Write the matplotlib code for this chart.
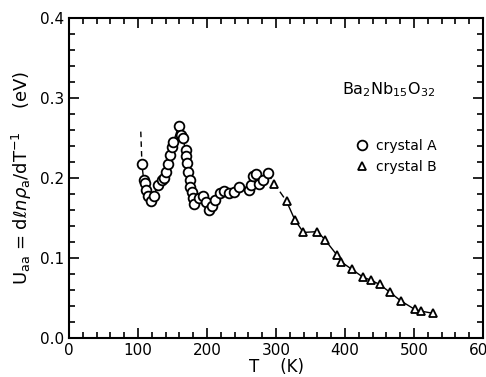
import matplotlib.pyplot as plt
import matplotlib.ticker as mticker
import numpy as np

# crystal A (circles)
T_a = [105.7, 108.1, 109.5, 111.0, 114.3, 119.2, 122.5, 128.8, 135.0, 137.4,
       140.9, 143.2, 146.7, 149.6, 151.4, 158.7, 162.6, 164.9, 168.8, 169.8,
       170.7, 172.1, 174.6, 176.0, 177.9, 179.4, 181.8, 189.0, 194.8, 198.7,
       203.5, 207.4, 212.0, 219.0, 225.0, 231.4, 239.6, 246.8, 260.3, 263.7,
       267.0, 270.9, 275.7, 280.5, 287.7]
U_a = [0.217, 0.198, 0.194, 0.185, 0.1775, 0.1716, 0.1775, 0.191, 0.1975, 0.200,
       0.208, 0.2175, 0.229, 0.239, 0.245, 0.265, 0.254, 0.250, 0.235, 0.227,
       0.219, 0.208, 0.1975, 0.189, 0.183, 0.175, 0.168, 0.175, 0.178, 0.170,
       0.160, 0.165, 0.1725, 0.181, 0.184, 0.181, 0.183, 0.189, 0.185, 0.191,
       0.2025, 0.205, 0.1925, 0.1975, 0.206]

# crystal B (triangles)
T_b = [297.4, 315.2, 327.3, 339.7, 360.0, 370.7, 388.0, 394.7, 409.7, 426.0,
       437.0, 450.0, 464.6, 480.5, 501.0, 509.4, 527.0]
U_b = [0.193, 0.171, 0.1475, 0.132, 0.133, 0.123, 0.104, 0.095, 0.086, 0.076,
       0.0725, 0.067, 0.0575, 0.0466, 0.0358, 0.0337, 0.031]

# dashed extension at the low-T end
T_ext = [104.0, 105.7]
U_ext = [0.258, 0.217]

fig = plt.figure(figsize=(4.86, 3.77), dpi=100)
ax = fig.add_axes([0.142, 0.1034, 0.852, 0.8488])

ax.plot(T_ext, U_ext, color='black', lw=1.0, ls=(0, (4, 3)))
ax.plot(T_a, U_a, color='black', lw=1.0)
ax.plot([T_a[-1]] + T_b[:2], [U_a[-1]] + U_b[:2], color='black', lw=1.0, ls=(0, (5, 3)))
ax.plot(T_b[1:], U_b[1:], color='black', lw=1.0)

ax.plot(T_a, U_a, 'o', ms=7, mfc='white', mec='black', mew=1.3, label='crystal A')
ax.plot(T_b, U_b, '^', ms=6, mfc='white', mec='black', mew=1.3, label='crystal B')

ax.set_xlim(0, 600)
ax.set_ylim(0, 0.4)
ax.xaxis.set_major_locator(mticker.MultipleLocator(100))
ax.xaxis.set_minor_locator(mticker.MultipleLocator(20))
ax.yaxis.set_major_locator(mticker.MultipleLocator(0.1))
ax.yaxis.set_minor_locator(mticker.MultipleLocator(0.02))
ax.yaxis.set_major_formatter(mticker.FormatStrFormatter('%.1f'))
ax.tick_params(which='both', direction='in', top=True, right=True, labelsize=11, width=1.2)
ax.tick_params(which='major', length=7)
ax.tick_params(which='minor', length=4)
for s in ax.spines.values():
    s.set_linewidth(1.5)

ax.set_xlabel('T    (K)', fontsize=12, labelpad=0)
ax.set_ylabel(r'U$_{\mathrm{aa}}$ = d$\ell n\rho_{\mathrm{a}}$/dT$^{-1}$    (eV)', fontsize=13, labelpad=4)

ax.text(463, 0.31, r'Ba$_2$Nb$_{15}$O$_{32}$', fontsize=11.5, ha='center', va='center')
ax.legend(loc='upper left', bbox_to_anchor=(0.665, 0.66), frameon=False,
          handlelength=0.8, handletextpad=0.6, fontsize=10, labelspacing=0.5)

plt.savefig('out.png', dpi=100)
